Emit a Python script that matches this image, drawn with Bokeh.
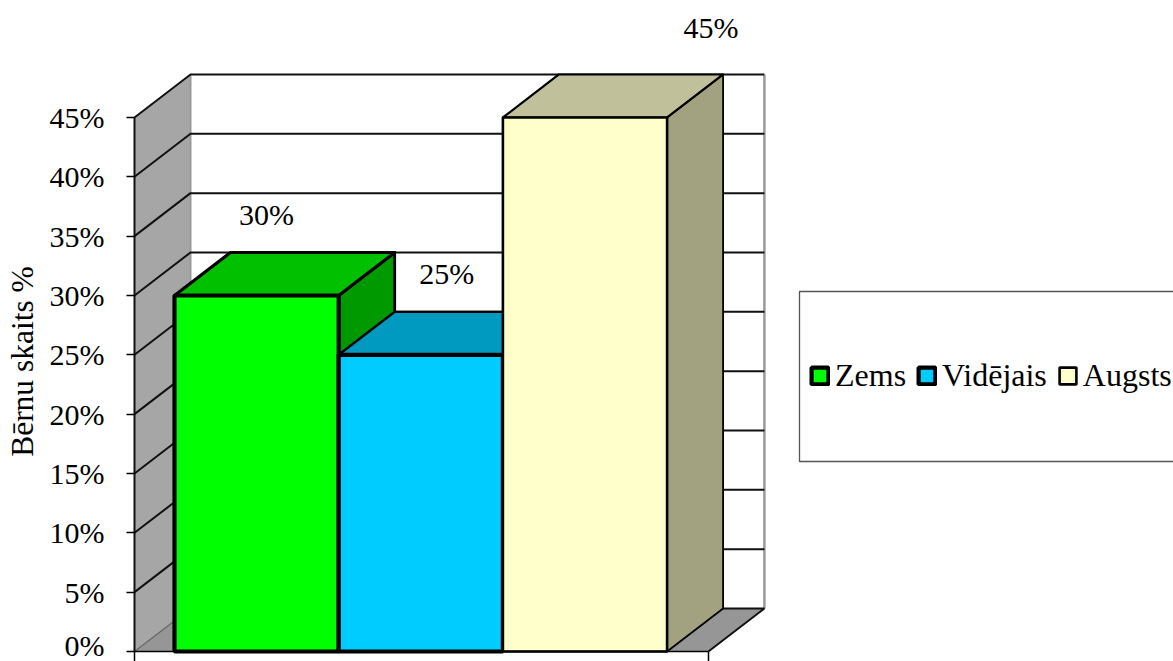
from math import pi
from bokeh.plotting import figure
from bokeh.models import Range1d, FixedTicker, PrintfTickFormatter, Legend, LegendItem, ColumnDataSource
from bokeh.core.properties import value
from bokeh.embed import file_html
from bokeh.resources import INLINE

categories = ["Zems", "Vidējais", "Augsts"]
values = [30, 25, 45]
y_ticks = [0, 5, 10, 15, 20, 25, 30, 35, 40, 45]
y_title = "Bērnu skaits %"

front = ["#00FF00", "#00CCFF", "#FFFFCC"]
top = ["#00C000", "#0099C0", "#C0C09A"]
side = ["#009A00", "#0099C0", "#A2A280"]
front_lw = [4.2, 4.2, 2.6]
top_lw = [3.2, 2.4, 2.2]
label_dx = [10, 26, 126]
label_dy = [-81, -81, -90]

W, H = 1173, 661
FONT = "Liberation Serif"
PX_X = 164.2     # px per category slot
PX_Y = 11.867    # px per percent
GAP = 40 / PX_X
AX_END = 3 + GAP + 41.3 / PX_X
DX = 56 / PX_X
DY = 43 / PX_Y
X0, Y0 = 134, 651

p = figure(width=W, height=H, output_backend="svg", toolbar_location=None,
           x_range=Range1d(-X0 / PX_X, (W - X0) / PX_X),
           y_range=Range1d(-(H - Y0) / PX_Y, Y0 / PX_Y),
           min_border=0, outline_line_color=None)
p.grid.visible = False
p.background_fill_color = "white"

TOP = max(y_ticks)

# walls and floor
p.patch([0, DX, DX, 0], [0, DY, TOP + DY, TOP], fill_color="#A6A6A6", line_color=None)
p.patch([0, DX, AX_END + DX, AX_END], [0, DY, DY, 0], fill_color="#969696", line_color=None)
p.segment([DX], [DY], [DX], [TOP + DY], line_color="#999999", line_width=2)
p.segment([AX_END + DX], [DY], [AX_END + DX], [TOP + DY], line_color="#999999", line_width=2.5)
for t in y_ticks[1:]:
    p.line([0, DX, AX_END + DX], [t, t + DY, t + DY], line_color="#111111", line_width=2)
p.line([0, DX], [0, DY], line_color="#666666", line_width=1.2)
p.line([DX, AX_END + DX, AX_END], [DY, DY, 0], line_color="#111111", line_width=2)

# 3-D bars
legend_items = []
for i, (c, v) in enumerate(zip(categories, values)):
    l, r = GAP + i, GAP + i + 1
    p.patch([r, r + DX, r + DX, r], [0, DY, v + DY, v], fill_color=side[i],
            line_color="black", line_width=top_lw[i] - 0.4, line_join="round")
    p.patch([l, l + DX, r + DX, r], [v, v + DY, v + DY, v], fill_color=top[i],
            line_color="black", line_width=top_lw[i], line_join="round")
    q = p.quad(left=[l], right=[r], bottom=[0], top=[v], fill_color=front[i],
               line_color="black", line_width=front_lw[i])
    legend_items.append(LegendItem(label=c, renderers=[q]))

# data labels
src = ColumnDataSource(dict(
    x=[GAP + i + 0.5 for i in range(3)], y=values,
    t=[f"{v}%" for v in values], dx=label_dx, dy=label_dy))
p.text(x="x", y="y", text="t", source=src, x_offset="dx", y_offset="dy",
       text_font=value(FONT), text_font_size="30px", text_color="black",
       text_align="center", text_baseline="middle")

# axis title
p.text(x=[0], y=[(Y0 - 361) / PX_Y], text=[y_title], x_offset=[22 - X0], angle=pi / 2,
       text_font=value(FONT), text_font_size="31.5px", text_color="black",
       text_align="center", text_baseline="middle")

# axes
ya = p.yaxis[0]
ya.fixed_location = 0
ya.bounds = (0, TOP)
ya.ticker = FixedTicker(ticks=y_ticks)
ya.formatter = PrintfTickFormatter(format="%d%%")
ya.major_tick_out = 8
ya.major_tick_in = 0
ya.minor_tick_line_color = None
ya.major_tick_line_color = "black"
ya.major_tick_line_width = 1.5
ya.axis_line_color = "#111111"
ya.axis_line_width = 2
ya.major_label_standoff = 22
ya.major_label_text_font = FONT
ya.major_label_text_font_size = "30px"
ya.major_label_text_color = "black"

xa = p.xaxis[0]
xa.fixed_location = 0
xa.bounds = (0, AX_END)
xa.ticker = FixedTicker(ticks=[0, AX_END])
xa.major_label_overrides = {0: "", AX_END: ""}
xa.major_tick_out = 10
xa.major_tick_in = 0
xa.minor_tick_line_color = None
xa.major_tick_line_color = "black"
xa.major_tick_line_width = 1.5
xa.axis_line_color = "black"
xa.axis_line_width = 1.5

# legend frame
lx0 = (799 - X0) / PX_X
lx1 = (W + 20 - X0) / PX_X
ly0 = (Y0 - 461) / PX_Y
ly1 = (Y0 - 291) / PX_Y
p.quad(left=[lx0], right=[lx1], bottom=[ly0], top=[ly1], fill_color="white",
       line_color="#555555", line_width=1.3)

legend = Legend(items=legend_items, orientation="horizontal", location=(809, H - 394),
                background_fill_alpha=0, border_line_color=None,
                padding=0, margin=0, spacing=10,
                glyph_width=21, glyph_height=21, label_standoff=5,
                label_text_font=FONT, label_text_font_size="32px", label_text_color="black")
p.add_layout(legend, "center")

open("out.html", "w").write(file_html(p, INLINE))
